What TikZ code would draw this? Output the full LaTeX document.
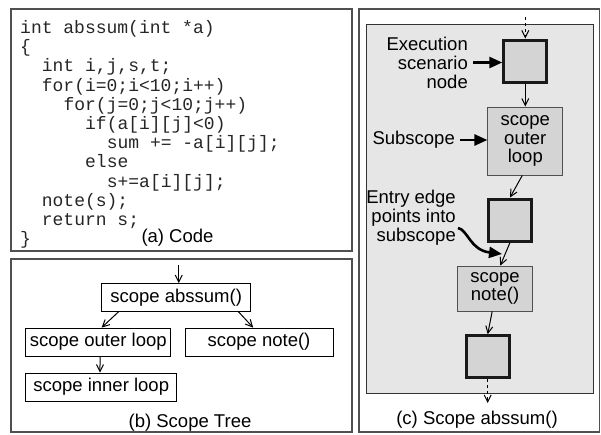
\documentclass[tikz,border=0pt]{standalone}
\usepackage{fontspec}
\setmainfont{Liberation Sans}
\setmonofont{Liberation Mono}
\usetikzlibrary{arrows.meta}
\definecolor{frame}{RGB}{80, 80, 80}
\definecolor{back}{RGB}{230, 230, 230}
\definecolor{cell}{RGB}{212, 212, 212}

\begin{document}
\begin{tikzpicture}[
   x=1pt, y=-1pt,
   txt/.style={font=\fontsize{18.5}{19}\selectfont, inner sep=0},
   codeln/.style={font=\fontsize{18}{19}\selectfont\ttfamily, text=black!85,
                  anchor=base west, inner sep=0},
   treebox/.style={rectangle, draw=black, line width=0.8, minimum height=28,
                   inner sep=0, font=\fontsize{18.5}{19}\selectfont},
   execbox/.style={rectangle, draw=black!90, fill=cell, line width=3,
                   minimum width=43, minimum height=42},
   subbox/.style={rectangle, draw=frame, fill=cell, line width=0.8, align=center,
                  inner sep=0, font=\fontsize{18.5}{18.5}\selectfont},
   flow/.style={-{Straight Barb[length=7pt,width=7pt]}, line width=1},
   pointer/.style={-{Triangle[length=13pt,width=11pt]}, line width=2.6}
  ]

  \useasboundingbox (0, 0) rectangle (601, 434);

  % Panel frames
  \draw[frame, line width=1.2] (11, 9) rectangle (352, 251);
  \draw[frame, line width=1.2] (11, 259) rectangle (352, 432);
  \draw[frame, line width=1.2] (359, 9) rectangle (599.5, 432);
  \draw[fill=back, draw=black!80, line width=1] (366, 24) rectangle (593.5, 393);

  % (a) Code
  \begin{scope}
    \foreach \n/\k/\t in {1/0/{int abssum(int *a)}, 2/0/{\{}, 3/2/{int i,j,s,t;},
        4/2/{for(i=0;i<10;i++)}, 5/4/{for(j=0;j<10;j++)}, 6/6/{if(a[i][j]<0)},
        7/8/{sum += -a[i][j];}, 8/6/{else}, 9/8/{s+=a[i][j];}, 10/2/{note(s);},
        11/2/{return s;}, 12/0/{\}}} {
      \node (L\n) at ({20 + 10.83 * \k}, {33.5 + 19.2 * (\n - 1)}) [codeln] {\t};
    }

    \node (CA) at (177.5, 238) [txt] {(a) Code};
  \end{scope}

  % (b) Scope Tree
  \begin{scope}
    \node (A) at (176.2, 297.5) [treebox, minimum width=149] {scope abssum()};
    \node (O) at (98.3, 342) [treebox, minimum width=145] {scope outer loop};
    \node (N) at (259, 342) [treebox, minimum width=148] {scope note()};
    \node (I) at (101.2, 387) [treebox, minimum width=151] {scope inner loop};

    \coordinate (T) at (178.7, 265);
    \draw[flow] (T) -- (T |- A.north);

    \foreach \B/\E in {A.194/O.77, A.347/N.112, O.277/I.95} {
      \draw[flow] (\B) -- (\E);
    }

    \node (CB) at (190, 422.7) [txt] {(b) Scope Tree};
  \end{scope}

  % (c) Scope abssum()
  \begin{scope}
    \node (E1) at (525.3, 61) [execbox] {};
    \node (SO) at (525.3, 141) [subbox, minimum width=75, minimum height=68] {scope\\outer\\loop};
    \node (E2) at (510, 220) [execbox] {};
    \node (SN) at (495, 288.5) [subbox, minimum width=75, minimum height=45] {scope\\note()};
    \node (E3) at (487.7, 356.7) [execbox] {};

    \coordinate (Cin) at (525.3, 17);
    \coordinate (Cout) at (487.7, 403);
    \draw[flow, dashed] (Cin) -- (E1);
    \draw[flow, dashed] (E3) -- (Cout);

    \foreach \B/\E in {E1/SO, SO.265/E2.north, E2.south/SN.77, SN.263/E3.north} {
      \draw[flow] (\B) -- (\E);
    }

    \node (LE) at (473, 62.5) [txt, anchor=east, align=right, inner xsep=5] {Execution\\scenario\\node};
    \node (LS) at (460, 140) [txt, anchor=east, inner xsep=5] {Subscope};
    \node (LN) at (456, 218) [txt, anchor=east, align=right] {Entry edge\\points into\\subscope};

    \draw[pointer] (LE.east) -- (LE.east -| E1.west);
    \draw[pointer] (LS.east) -- (LS.east -| SO.west);

    \coordinate (Efrom) at (458, 228);
    \coordinate (Eto) at (502, 254);
    \draw[pointer] (Efrom) .. controls (468, 230) and (470, 250) .. (Eto);

    \node (CC) at (477, 420) [txt] {(c) Scope abssum()};
  \end{scope}

\end{tikzpicture}
\end{document}
